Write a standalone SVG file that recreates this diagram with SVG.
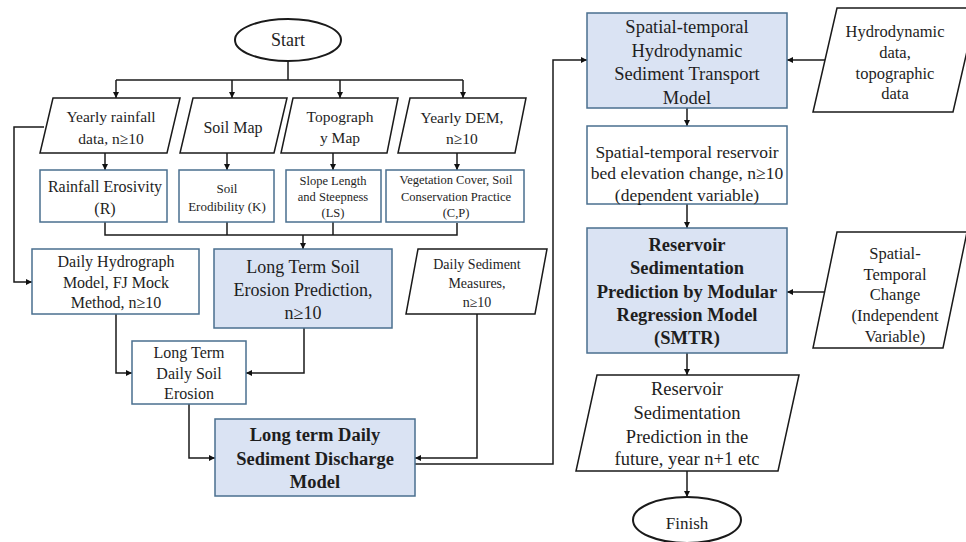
<svg xmlns="http://www.w3.org/2000/svg" width="966" height="542" viewBox="0 0 966 542">
<defs>
<marker id="ah" markerUnits="userSpaceOnUse" markerWidth="6" markerHeight="6" refX="6" refY="3" orient="auto">
<path d="M0,0 L6,3 L0,6 z" fill="#111"/>
</marker>
<style>
.bg{fill:#ffffff}
.rect{fill:#ffffff;stroke:#4a6f8f;stroke-width:1.5}
.blue{fill:#dae3f3;stroke:#4a6f8f;stroke-width:1.5}
.para{fill:#ffffff;stroke:#1a1a1a;stroke-width:1.5}
.term{fill:#ffffff;stroke:#1a1a1a;stroke-width:2}
.con{fill:none;stroke:#1a1a1a;stroke-width:1.5}
.arr{fill:none;stroke:#1a1a1a;stroke-width:1.5;marker-end:url(#ah)}
text{font-family:"Liberation Serif","Times New Roman",serif;fill:#1e1e1e;text-anchor:middle}
.b{font-weight:bold}
</style>
</defs>
<rect class="bg" x="0" y="0" width="966" height="542"/>

<g id="connectors">
<line class="con" x1="288" y1="61" x2="288" y2="80"/>
<line class="con" x1="116" y1="80" x2="463" y2="80"/>
<line class="arr" x1="116" y1="80" x2="116" y2="98"/>
<line class="arr" x1="232" y1="80" x2="232" y2="98"/>
<line class="arr" x1="340" y1="80" x2="340" y2="98"/>
<line class="arr" x1="463" y1="80" x2="463" y2="98"/>
<line class="arr" x1="105" y1="153" x2="105" y2="170"/>
<line class="arr" x1="227" y1="153" x2="227" y2="170"/>
<line class="arr" x1="333" y1="153" x2="333" y2="170"/>
<line class="arr" x1="457" y1="153" x2="457" y2="170"/>
<polyline class="con" points="105,222 105,235 457,235 457,223"/>
<line class="con" x1="227" y1="222" x2="227" y2="235"/>
<line class="con" x1="333" y1="222" x2="333" y2="235"/>
<line class="arr" x1="303" y1="235" x2="303" y2="249"/>
<polyline class="arr" points="44,127 14,127 14,282 32,282"/>
<polyline class="arr" points="116,314 116,373 132,373"/>
<polyline class="arr" points="304,328 304,373 246,373"/>
<polyline class="arr" points="189,404 189,458 215,458"/>
<polyline class="arr" points="477,314 477,458 415,458"/>
<polyline class="arr" points="415,464 553,464 553,60 587,60"/>
<line class="arr" x1="825" y1="60" x2="787" y2="60"/>
<line class="arr" x1="687" y1="108" x2="687" y2="126"/>
<line class="arr" x1="687" y1="204" x2="687" y2="228"/>
<line class="arr" x1="825" y1="292" x2="787" y2="292"/>
<line class="arr" x1="687" y1="353" x2="687" y2="375"/>
<line class="arr" x1="687" y1="471" x2="687" y2="497"/>
</g>

<g id="start">
<ellipse class="term" cx="288" cy="40" rx="53" ry="21"/>
<text x="288" y="46" font-size="18">Start</text>
</g>

<g id="rainfall-data">
<polygon class="para" points="53,98 180,98 167,153 40,153"/>
<text x="111" y="122" font-size="15.5">Yearly rainfall</text>
<text x="111" y="144" font-size="15.5">data, n≥10</text>
</g>

<g id="soil-map">
<polygon class="para" points="193,98 287,98 274,153 180,153"/>
<text x="233" y="133" font-size="16">Soil Map</text>
</g>

<g id="topography-map">
<polygon class="para" points="293,98 398,98 387,153 281,153"/>
<text x="340" y="122" font-size="15.5">Topograph</text>
<text x="340" y="143" font-size="15.5">y Map</text>
</g>

<g id="dem">
<polygon class="para" points="410,98 526,98 515,153 398,153"/>
<text x="462" y="123" font-size="15.5">Yearly DEM,</text>
<text x="462" y="144" font-size="15.5">n≥10</text>
</g>

<g id="rainfall-erosivity">
<rect class="rect" x="40" y="170" width="127" height="52"/>
<text x="105" y="192" font-size="16">Rainfall Erosivity</text>
<text x="105" y="214" font-size="16">(R)</text>
</g>

<g id="soil-erodibility">
<rect class="rect" x="179" y="170" width="95" height="52"/>
<text x="227" y="193" font-size="13">Soil</text>
<text x="227" y="211" font-size="13">Erodibility (K)</text>
</g>

<g id="slope-length">
<rect class="rect" x="286" y="170" width="95" height="52"/>
<text x="333" y="185" font-size="12.5">Slope Length</text>
<text x="333" y="201" font-size="12.5">and Steepness</text>
<text x="333" y="217" font-size="12.5">(LS)</text>
</g>

<g id="vegetation-cover">
<rect class="rect" x="386" y="170" width="138" height="52"/>
<text x="456" y="184" font-size="12.5">Vegetation Cover, Soil</text>
<text x="456" y="201" font-size="12.5">Conservation Practice</text>
<text x="456" y="217" font-size="12.5">(C,P)</text>
</g>

<g id="daily-hydrograph">
<rect class="rect" x="32" y="249" width="167" height="65"/>
<text x="116" y="267" font-size="16">Daily Hydrograph</text>
<text x="116" y="288" font-size="16">Model, FJ Mock</text>
<text x="116" y="308" font-size="16">Method, n≥10</text>
</g>

<g id="soil-erosion-prediction">
<rect class="blue" x="214" y="249" width="178" height="79"/>
<text x="303" y="273" font-size="18">Long Term Soil</text>
<text x="303" y="296" font-size="18">Erosion Prediction,</text>
<text x="303" y="319" font-size="18">n≥10</text>
</g>

<g id="daily-sediment-measures">
<polygon class="para" points="418,249 547,249 535,314 406,314"/>
<text x="477" y="269" font-size="14">Daily Sediment</text>
<text x="477" y="288" font-size="14">Measures,</text>
<text x="477" y="307" font-size="14">n≥10</text>
</g>

<g id="daily-soil-erosion">
<rect class="rect" x="132" y="341" width="114" height="63"/>
<text x="189" y="358" font-size="16">Long Term</text>
<text x="189" y="379" font-size="16">Daily Soil</text>
<text x="189" y="399" font-size="16">Erosion</text>
</g>

<g id="sediment-discharge-model">
<rect class="blue" x="215" y="419" width="200" height="77"/>
<text class="b" x="315" y="441" font-size="18.5">Long term Daily</text>
<text class="b" x="315" y="465" font-size="18.5">Sediment Discharge</text>
<text class="b" x="315" y="488" font-size="18.5">Model</text>
</g>

<g id="hydrodynamic-model">
<rect class="blue" x="587" y="13" width="200" height="95"/>
<text x="687" y="33" font-size="18.5">Spatial-temporal</text>
<text x="687" y="57" font-size="18.5">Hydrodynamic</text>
<text x="687" y="80" font-size="18.5">Sediment Transport</text>
<text x="687" y="104" font-size="18.5">Model</text>
</g>

<g id="hydrodynamic-data">
<polygon class="para" points="837,8 977,8 953,112 813,112"/>
<text x="895" y="37" font-size="16.5">Hydrodynamic</text>
<text x="895" y="58" font-size="16.5">data,</text>
<text x="895" y="79" font-size="16.5">topographic</text>
<text x="895" y="99" font-size="16.5">data</text>
</g>

<g id="bed-elevation-change">
<rect class="rect" x="587" y="126" width="200" height="78"/>
<text x="687" y="158" font-size="17.5">Spatial-temporal reservoir</text>
<text x="687" y="179" font-size="17.5">bed elevation change, n≥10</text>
<text x="687" y="201" font-size="17.5">(dependent variable)</text>
</g>

<g id="smtr">
<rect class="blue" x="587" y="228" width="200" height="125"/>
<text class="b" x="687" y="251" font-size="18.5">Reservoir</text>
<text class="b" x="687" y="274" font-size="18.5">Sedimentation</text>
<text class="b" x="687" y="298" font-size="18.5">Prediction by Modular</text>
<text class="b" x="687" y="321" font-size="18.5">Regression Model</text>
<text class="b" x="687" y="344" font-size="18.5">(SMTR)</text>
</g>

<g id="spatial-temporal-change">
<polygon class="para" points="837,232 967,232 943,348 813,348"/>
<text x="895" y="259" font-size="16.5">Spatial-</text>
<text x="895" y="280" font-size="16.5">Temporal</text>
<text x="895" y="300" font-size="16.5">Change</text>
<text x="895" y="321" font-size="16.5">(Independent</text>
<text x="895" y="342" font-size="16.5">Variable)</text>
</g>

<g id="future-prediction">
<polygon class="para" points="597,375 799,375 778,471 576,471"/>
<text x="687" y="395" font-size="18.5">Reservoir</text>
<text x="687" y="419" font-size="18.5">Sedimentation</text>
<text x="687" y="443" font-size="18.5">Prediction in the</text>
<text x="687" y="465" font-size="18.5">future, year n+1 etc</text>
</g>

<g id="finish">
<ellipse class="term" cx="687" cy="520" rx="54" ry="23"/>
<text x="687" y="529" font-size="17">Finish</text>
</g>
</svg>
